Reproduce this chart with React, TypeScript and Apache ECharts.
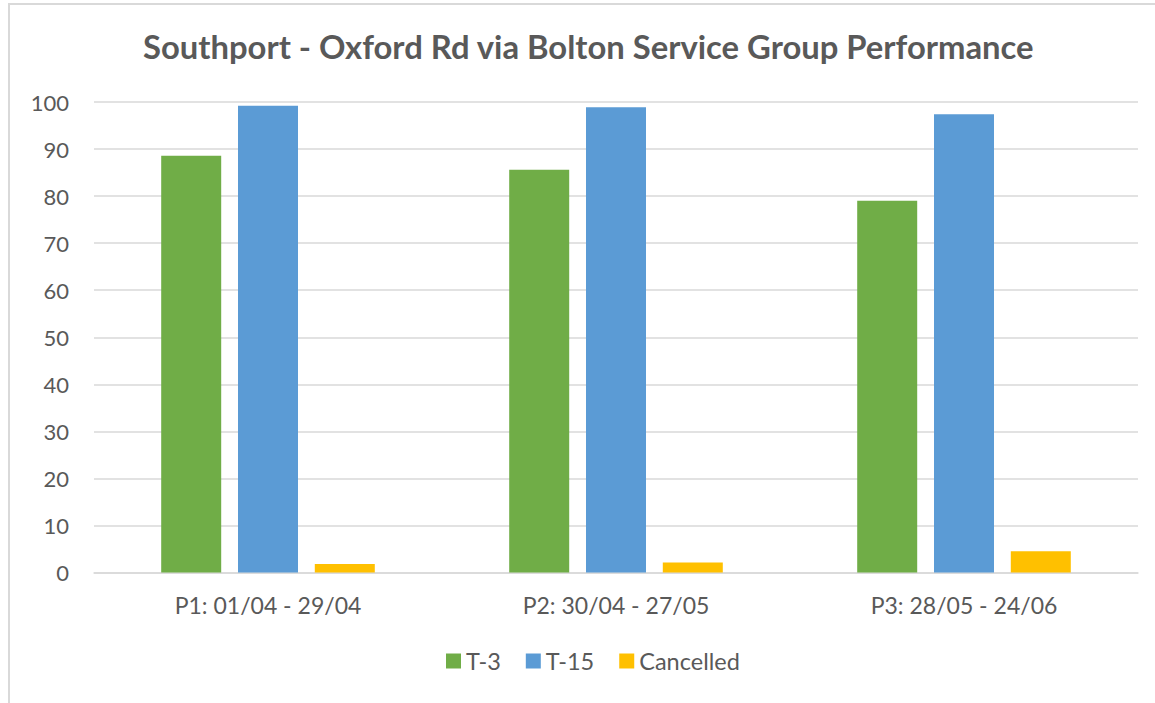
import React, { useEffect, useRef } from "react";
import * as echarts from "echarts";

const titleText = "Southport - Oxford Rd via Bolton Service Group Performance";
const categories = ["P1: 01/04 - 29/04", "P2: 30/04 - 27/05", "P3: 28/05 - 24/06"];
const seriesNames = ["T-3", "T-15", "Cancelled"];
const t3Values = [88.6, 85.6, 79.0];
const t15Values = [99.2, 98.9, 97.4];
const cancelledValues = [1.8, 2.1, 4.5];
const seriesColors = ["#70AD47", "#5B9BD5", "#FFC000"];

const FONT = "Lato";
const TEXT_COLOR = "#595959";

export default function App() {
  const ref = useRef<HTMLDivElement>(null);
  useEffect(() => {
    if (!ref.current) return;
    const chart = echarts.init(ref.current, undefined, { renderer: "svg" });
    const values = [t3Values, t15Values, cancelledValues];
    chart.setOption({
      animation: false,
      backgroundColor: "#ffffff",
      title: {
        text: titleText,
        left: 138,
        top: 25,
        textStyle: { fontFamily: FONT, fontSize: 32.8, fontWeight: "bold", color: TEXT_COLOR },
      },
      graphic: [
        {
          type: "rect",
          shape: { x: 9, y: 4, width: 1160, height: 720 },
          style: { fill: "none", stroke: "#d9d9d9", lineWidth: 2 },
          silent: true,
        },
      ],
      legend: {
        data: seriesNames,
        bottom: 25,
        left: 441,
        itemWidth: 15,
        itemHeight: 15,
        itemGap: 25,
        icon: "rect",
        textStyle: { fontFamily: FONT, fontSize: 23.5, color: TEXT_COLOR },
      },
      grid: { left: 94, right: 17, top: 102, bottom: 130.5, containLabel: false },
      xAxis: {
        type: "category",
        data: categories,
        axisLine: { lineStyle: { color: "#d9d9d9", width: 1.5 } },
        axisTick: { show: false },
        axisLabel: { fontFamily: FONT, fontSize: 23, color: TEXT_COLOR, margin: 21 },
      },
      yAxis: {
        type: "value",
        min: 0,
        max: 100,
        interval: 10,
        axisLine: { show: false },
        axisTick: { show: false },
        splitLine: { lineStyle: { color: "#d9d9d9", width: 1.5 } },
        axisLabel: { fontFamily: FONT, fontSize: 22, color: TEXT_COLOR, margin: 25 },
      },
      series: seriesNames.map((name, i) => ({
        name,
        type: "bar",
        data: values[i],
        barWidth: 60,
        barGap: "28%",
        itemStyle: { color: seriesColors[i] },
      })),
    });
    return () => chart.dispose();
  }, []);
  return (
    <div
      ref={ref}
      style={{ position: "fixed", left: 0, top: 0, width: 1155, height: 703 }}
    />
  );
}
